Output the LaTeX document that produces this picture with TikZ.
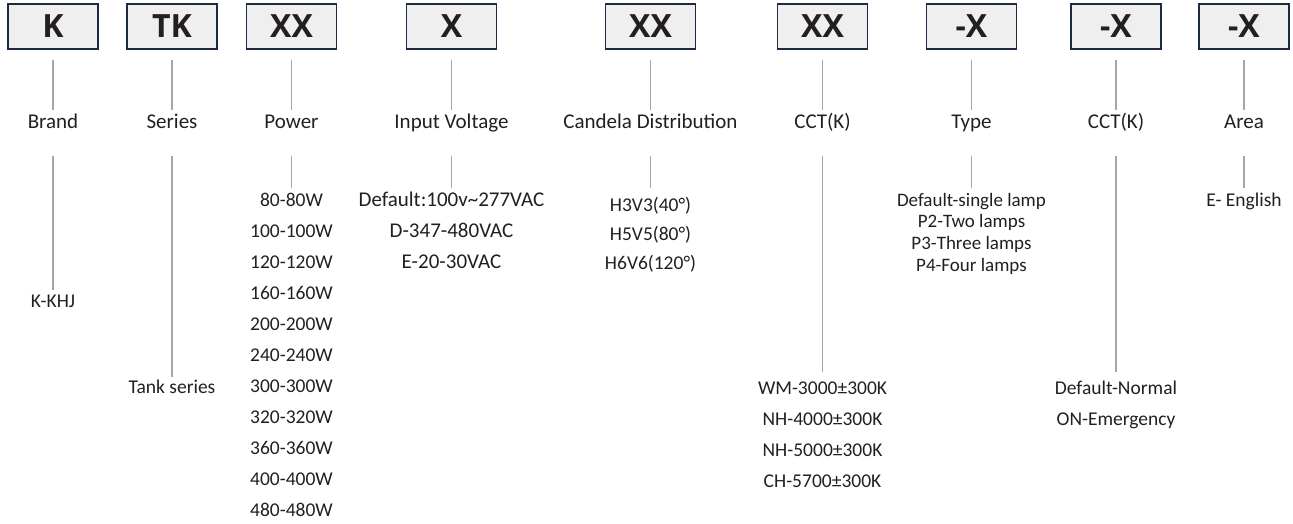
\documentclass[tikz,border=0pt]{standalone}
\usepackage{fontspec}
\setmainfont{Carlito}
\newfontfamily\codefont{Open Sans}
\definecolor{boxfill}{HTML}{EFEFEF}
\definecolor{boxline}{HTML}{1E2A44}
\definecolor{ink}{HTML}{231F20}
\definecolor{rule}{HTML}{A6A6A6}

\begin{document}
\begin{tikzpicture}[
    x=1pt, y=-1pt,
    code/.style={rectangle, draw=boxline, fill=boxfill, line width=1.8pt, minimum width=90pt, minimum height=45pt, inner sep=0pt, font=\codefont\bfseries\fontsize{32}{38}\selectfont, text=ink},
    lbl/.style={inner sep=0pt, text height=14pt, text depth=4pt, font=\fontsize{19.5}{24}\selectfont, text=ink},
    head/.style={lbl, font=\fontsize{21}{25}\selectfont},
    small/.style={lbl, font=\fontsize{19}{23}\selectfont},
    link/.style={draw=rule, line width=1.3pt}
]
\useasboundingbox (0,0) rectangle (1293,524);
% code boxes
\node[code] (brand) at (53,26.5) {K};
\node[code] (series) at (172,26.5) {TK};
\node[code] (power) at (291.5,26.5) {XX};
\node[code] (volt) at (451.5,26.5) {X};
\node[code] (cand) at (650.5,26.5) {XX};
\node[code] (cct) at (822.5,26.5) {XX};
\node[code] (type) at (971.5,26.5) {-X};
\node[code] (ccte) at (1116,26.5) {-X};
\node[code] (area) at (1244,26.5) {-X};
% field names
\node[head] (brand-l) at (53,124) {Brand};
\node[head] (series-l) at (172,124) {Series};
\node[head] (power-l) at (291.5,124) {Power};
\node[head] (volt-l) at (451.5,124) {Input Voltage};
\node[head] (cand-l) at (650.5,124) {Candela Distribution};
\node[head] (cct-l) at (822.5,124) {CCT(K)};
\node[head] (type-l) at (971.5,124) {Type};
\node[head] (ccte-l) at (1116,124) {CCT(K)};
\node[head] (area-l) at (1244,124) {Area};
% option lists
\node[lbl] (khj) at (53,302) {K-KHJ};
\node[lbl] (tank) at (172,388) {Tank series};
\foreach \w [count=\i] in {80,100,120,160,200,240,300,320,360,400,480}
  \node[lbl] (pw\i) at (291.5,{201+31*(\i-1)}) {\w-\w{}W};
\foreach \t [count=\i] in {Default:100v\textasciitilde 277VAC, D-347-480VAC, E-20-30VAC}
  \node[head] (v\i) at (451.5,{201+31*(\i-1)}) {\t};
\foreach \t [count=\i] in {H3V3(40°), H5V5(80°), H6V6(120°)}
  \node[lbl] (c\i) at (650.5,{206+29*(\i-1)}) {\t};
\foreach \t [count=\i] in {WM-3000±300K, NH-4000±300K, NH-5000±300K, CH-5700±300K}
  \node[lbl] (w\i) at (822.5,{389+31*(\i-1)}) {\t};
\foreach \t [count=\i] in {Default-single lamp, P2-Two lamps, P3-Three lamps, P4-Four lamps}
  \node[small] (t\i) at (971.5,{201+21.7*(\i-1)}) {\t};
\foreach \t [count=\i] in {Default-Normal, ON-Emergency}
  \node[lbl] (e\i) at (1116,{389+31*(\i-1)}) {\t};
\node[lbl] (eng) at (1244,201) {E- English};
% links
\foreach \c in {brand,series,power,volt,cand,cct,type,ccte,area}
  \draw[link, shorten <=10pt, shorten >=5pt] (\c) -- (\c-l);
\foreach \c/\f/\g in {brand/khj/3, series/tank/2, power/pw1/4, volt/v1/4, cand/c1/9, cct/w1/8, type/t1/4, ccte/e1/8, area/eng/4}
  \draw[link, shorten <=23pt, shorten >=\g pt] (\c-l) -- (\f);
\end{tikzpicture}
\end{document}
